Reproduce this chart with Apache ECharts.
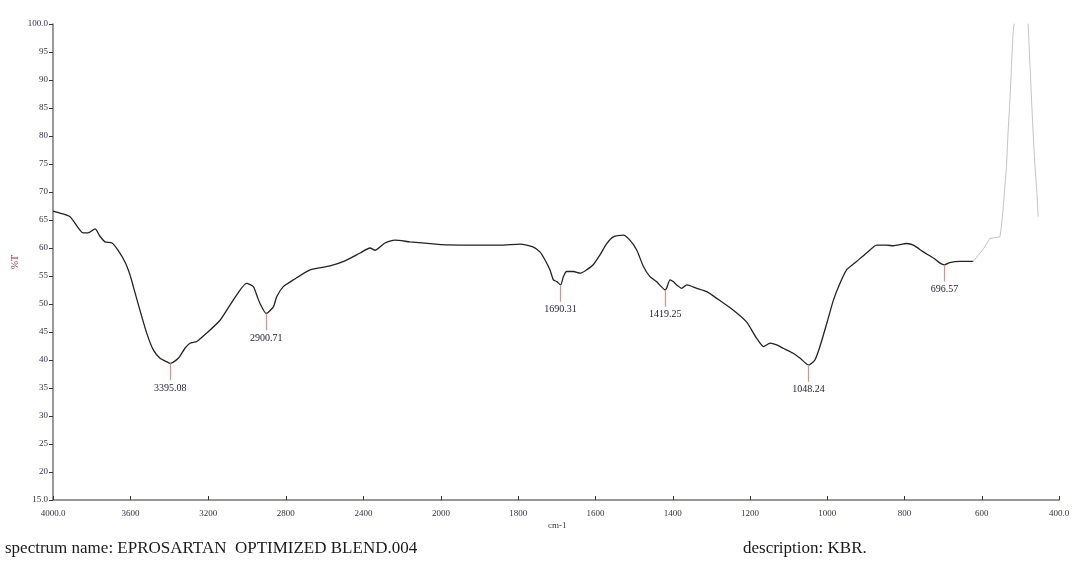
<!DOCTYPE html>
<html><head><meta charset="utf-8">
<script src="https://cdn.jsdelivr.net/npm/echarts@6/dist/echarts.min.js"></script>
<style>html,body{margin:0;padding:0;background:#fff}#c{width:1073px;height:576px}</style>
</head><body><div id="c"></div>
<script>
// High wavenumber region (4000-2000 cm-1)
const wnHigh = [4000,3981,3912,3845,3820,3783,3758,3732,3696,3665,3629,3603,3586,3552,3517,3483,3448,3414,3395.08,3354,3320,3294,3259,3208,3139,3071,3002,2967,2950,2933,2900.71,2864,2847,2813,2761,2675,2572,2495,2417,2366,2340,2289,2237,2160,2000];
const tHigh  = [66.6,66.4,65.6,62.7,62.7,63.4,62.1,61.1,60.9,59.6,57.5,55.2,53.1,48.9,44.8,41.8,40.3,39.7,39.4,40.3,42.1,43.0,43.3,44.8,47.1,50.7,53.7,53.1,51.6,50.1,48.3,49.5,51.3,53.1,54.3,56.1,56.8,57.7,59.1,60.0,59.6,60.9,61.4,61.1,60.6];
// Low wavenumber region (2000-622 cm-1)
const wnLow = [2000,1925,1847,1795,1762,1744,1731,1718,1709,1700,1690.31,1683,1675,1657,1640,1623,1606,1588,1571,1554,1528,1511,1493,1476,1459,1442,1419.25,1416,1407,1399,1390,1377,1364,1338,1312,1286,1243,1209,1183,1165,1148,1131,1114,1088,1070,1048.24,1032,1019,1001,984,967,950,924,898,872,846,829,794,777,751,725,708,696.57,683,656,622];
const tLow  = [60.6,60.5,60.5,60.7,60.2,59.3,57.9,56.1,54.3,54.0,53.4,54.9,55.8,55.8,55.5,56.1,57.0,58.8,60.8,62.0,62.3,61.4,59.6,56.7,54.9,54.0,52.5,52.8,54.3,54.0,53.4,52.8,53.4,52.8,52.2,51.0,48.9,46.8,43.9,42.4,43.0,42.7,42.1,41.2,40.3,39.1,40.0,42.4,46.6,50.7,53.7,56.1,57.6,59.1,60.5,60.5,60.4,60.8,60.5,59.3,58.2,57.3,57.0,57.4,57.6,57.6];
// Faint tail (622-454 cm-1)
const wnTail = [622,596,579,553,549,545,536,532,527,523,519,516,499,480,475,471,467,462,456,454];
const tTail  = [57.6,59.8,61.7,62.0,63.8,66.8,74.5,80.5,86.4,92.4,98.3,100.2,115,100.2,92.4,86.4,80.5,74.5,68.6,65.6];
// Peak picks
const peakWn = [3395.08,2900.71,1690.31,1419.25,1048.24,696.57];
const peakT  = [39.4,48.3,53.4,52.5,39.1,57.0];

const zip = (a,b)=>a.map((v,i)=>[v,b[i]]);
const serif = '"Liberation Serif","DejaVu Serif",serif';
const markData = (hi)=>peakWn.map((w,i)=>({w,t:peakT[i]})).filter(p=>hi? p.w>2000 : p.w<=2000)
  .map(p=>[{coord:[p.w,p.t]},{coord:[p.w,p.t-3], label:{formatter:p.w.toFixed(2)}}]);
const mk = (hi)=>({symbol:['none','none'],silent:true,animation:false,
  lineStyle:{color:'#f08888',width:1.2,type:'solid'},
  label:{show:true,position:'end',distance:3,fontFamily:serif,fontSize:10,color:'#1c1c3c'},
  data:markData(hi)});

const axisColor='#777';
const tickLbl = {fontFamily:serif,fontSize:9,color:'#33334d'};
const chart = echarts.init(document.getElementById('c'));
chart.setOption({
  animation:false,
  grid:[{left:53,top:24,width:388,height:476},{left:441,top:24,width:618,height:476}],
  xAxis:[
    {gridIndex:0,type:'value',inverse:true,min:2000,max:4000,interval:400,
     axisLine:{lineStyle:{color:axisColor,width:1.5}},axisTick:{inside:true,length:4,lineStyle:{color:'#333'}},
     splitLine:{show:false},axisLabel:Object.assign({margin:9,formatter:v=>v===4000?'4000.0':String(v)},tickLbl)},
    {gridIndex:1,type:'value',inverse:true,min:400,max:2000,interval:200,
     axisLine:{lineStyle:{color:axisColor,width:1.5}},axisTick:{inside:true,length:4,lineStyle:{color:'#333'}},
     splitLine:{show:false},axisLabel:Object.assign({margin:9,showMaxLabel:false,formatter:v=>v===400?'400.0':String(v)},tickLbl)}
  ],
  yAxis:[
    {gridIndex:0,type:'value',min:15,max:100,interval:5,name:'%T',nameLocation:'middle',nameGap:33,nameRotate:90,
     nameTextStyle:{fontFamily:serif,fontSize:10,color:'#b02828'},
     axisLine:{show:true,lineStyle:{color:axisColor,width:1.5}},axisTick:{show:true,length:4,lineStyle:{color:'#333'}},
     splitLine:{show:false},axisLabel:Object.assign({margin:5,formatter:v=>v===100?'100.0':(v===15?'15.0':String(v))},tickLbl)},
    {gridIndex:1,type:'value',min:15,max:100,interval:5,show:false}
  ],
  graphic:[
    {type:'text',left:548,top:521,style:{text:'cm-1',font:'9px '+serif,fill:'#33334d'}},
    {type:'text',left:5,top:540,style:{text:'spectrum name: EPROSARTAN  OPTIMIZED BLEND.004',font:'17px '+serif,fill:'#1a1a1a'}},
    {type:'text',left:743,top:540,style:{text:'description: KBR.',font:'17px '+serif,fill:'#1a1a1a'}}
  ],
  series:[
    {type:'line',xAxisIndex:0,yAxisIndex:0,data:zip(wnHigh,tHigh),showSymbol:false,smooth:0.2,
     lineStyle:{color:'#222',width:1.3},markLine:mk(true)},
    {type:'line',xAxisIndex:1,yAxisIndex:1,data:zip(wnLow,tLow),showSymbol:false,smooth:0.2,
     lineStyle:{color:'#222',width:1.3},markLine:mk(false)},
    {type:'line',xAxisIndex:1,yAxisIndex:1,data:zip(wnTail,tTail),showSymbol:false,smooth:false,
     lineStyle:{color:'#c4c4c4',width:1}}
  ]
});
</script></body></html>
